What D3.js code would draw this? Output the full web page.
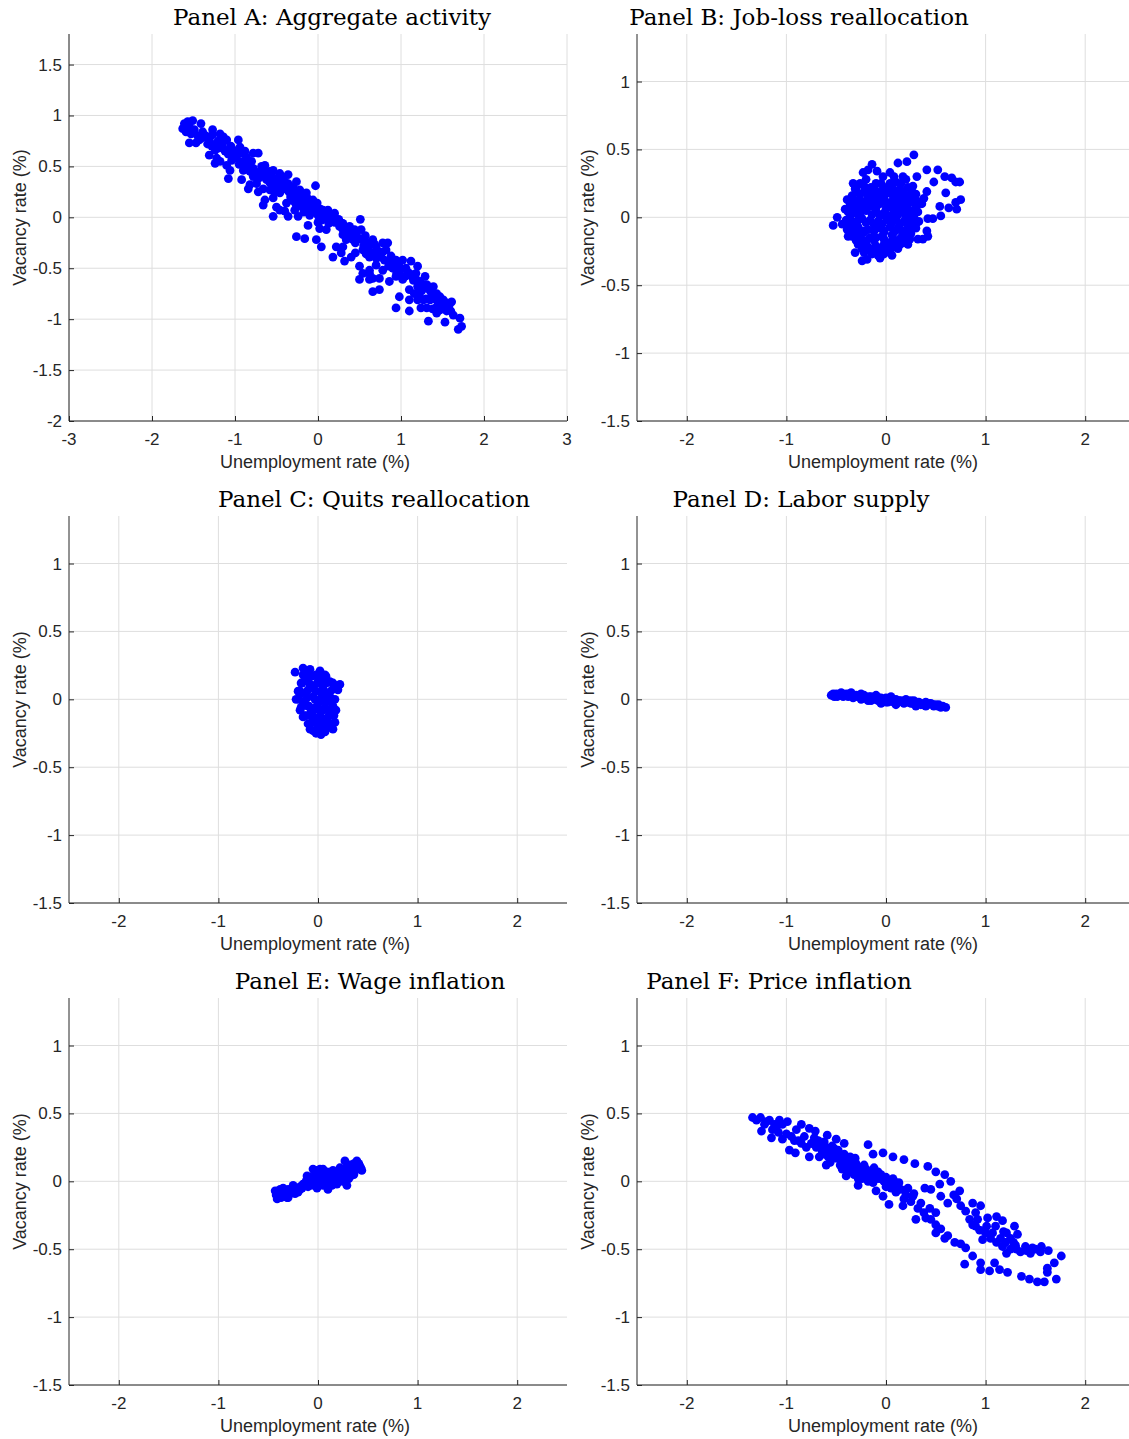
<!DOCTYPE html>
<html>
<head>
<meta charset="utf-8">
<script src="https://cdn.jsdelivr.net/npm/d3@7"></script>
<style>
  body { margin: 0; background: #fff; }
</style>
</head>
<body>
<div id="chart"></div>
<script>
// tick values
const xTicksWide = [-3, -2, -1, 0, 1, 2, 3];
const yTicksWide = [-2, -1.5, -1, -0.5, 0, 0.5, 1, 1.5];
const xTicksStd = [-2, -1, 0, 1, 2];
const yTicksStd = [-1.5, -1, -0.5, 0, 0.5, 1];

const panelTitles = [
  "Panel A: Aggregate activity",
  "Panel B: Job-loss reallocation",
  "Panel C: Quits reallocation",
  "Panel D: Labor supply",
  "Panel E: Wage inflation",
  "Panel F: Price inflation"
];

// [unemployment, vacancy] pairs
const aggregateActivity = [
  [-1.61,0.92],[-1.57,0.94],[-1.51,0.95],[-1.63,0.87],[-1.59,0.84],[-1.55,0.89],[-1.49,0.86],[-1.41,0.92],
  [-1.39,0.84],[-1.43,0.76],[-1.55,0.73],[-1.47,0.73],[-1.27,0.86],[-1.31,0.76],[-1.27,0.81],[-1.18,0.82],
  [-1.14,0.79],[-1.10,0.76],[-1.22,0.73],[-1.16,0.69],[-1.06,0.68],[-0.96,0.76],[-0.94,0.69],[-1.02,0.66],
  [-1.31,0.61],[-1.22,0.58],[-1.24,0.53],[-1.18,0.55],[-1.10,0.51],[-1.04,0.56],[-0.98,0.58],[-0.92,0.63],
  [-0.86,0.59],[-0.78,0.63],[-0.72,0.63],[-0.80,0.55],[-0.86,0.50],[-0.90,0.46],[-1.06,0.46],[-1.08,0.38],
  [-0.92,0.37],[-0.82,0.32],[-0.84,0.28],[-0.74,0.33],[-0.70,0.40],[-0.64,0.51],[-0.58,0.45],[-0.54,0.46],
  [-0.46,0.43],[-0.36,0.42],[-0.50,0.37],[-0.40,0.35],[-0.62,0.37],[-0.66,0.28],[-0.58,0.27],[-0.72,0.25],
  [-0.64,0.17],[-0.66,0.12],[-0.54,0.19],[-0.46,0.24],[-0.38,0.28],[-0.26,0.35],[-0.22,0.27],[-0.14,0.24],
  [-0.16,0.17],[-0.32,0.17],[-0.38,0.14],[-0.46,0.07],[-0.54,0.01],[-0.36,0.01],[-0.24,0.01],[-0.50,0.10],
  [-0.40,0.06],[-0.26,0.10],[-0.28,0.07],[-0.12,0.14],[-0.03,0.31],[-0.06,0.17],[-0.02,0.10],[0.06,0.07],
  [0.12,0.07],[0.20,0.04],[0.10,0.01],[0.00,0.02],[0.04,-0.03],[0.16,-0.03],[-0.10,0.02],[-0.12,-0.08],
  [0.02,-0.11],[0.10,-0.12],[0.26,-0.09],[0.30,-0.06],[0.38,-0.09],[0.30,-0.17],[0.34,-0.22],[0.42,-0.22],
  [0.38,-0.16],[0.46,-0.16],[0.52,-0.12],[0.51,-0.02],[0.58,-0.24],[0.66,-0.22],[0.70,-0.29],[0.78,-0.25],
  [0.84,-0.25],[0.78,-0.34],[0.74,-0.39],[0.62,-0.39],[0.54,-0.32],[0.30,-0.29],[0.22,-0.29],[0.28,-0.35],
  [0.40,-0.39],[0.32,-0.43],[0.18,-0.39],[0.04,-0.29],[-0.02,-0.22],[-0.26,-0.19],[-0.16,-0.21],[0.50,-0.48],
  [0.54,-0.55],[0.62,-0.52],[0.66,-0.60],[0.78,-0.52],[0.86,-0.45],[0.94,-0.42],[1.02,-0.42],[0.98,-0.52],
  [1.06,-0.50],[1.12,-0.43],[1.02,-0.61],[0.98,-0.55],[0.94,-0.58],[1.10,-0.55],[1.20,-0.48],[1.29,-0.58],
  [1.18,-0.61],[1.10,-0.71],[1.16,-0.75],[1.27,-0.68],[1.31,-0.66],[1.39,-0.68],[1.43,-0.75],[1.35,-0.81],
  [1.47,-0.78],[1.51,-0.81],[1.55,-0.84],[1.61,-0.83],[1.43,-0.88],[1.47,-0.91],[1.57,-0.89],[1.63,-0.96],
  [1.71,-0.99],[1.73,-1.07],[1.69,-1.10],[1.53,-1.03],[1.33,-1.02],[1.10,-0.92],[0.94,-0.89],[0.98,-0.78],
  [1.10,-0.81],[0.66,-0.73],[0.74,-0.71],[0.50,-0.61],[1.20,-0.81],[1.24,-0.89],[1.31,-0.89],[1.43,-0.94],
  [1.27,-0.81],[0.74,-0.60],[0.62,-0.55],[0.86,-0.63],[0.62,-0.61],
  [-1.35,0.80],[-1.20,0.75],[-1.05,0.70],[-0.98,0.62],[-0.90,0.55],[-0.85,0.50],[-0.78,0.48],[-0.75,0.42],
  [-0.70,0.45],[-0.65,0.40],[-0.60,0.38],[-0.55,0.33],[-0.50,0.30],[-0.45,0.28],[-0.42,0.32],[-0.35,0.25],
  [-0.30,0.22],[-0.25,0.18],[-0.20,0.15],[-0.18,0.10],[-0.10,0.10],[-0.05,0.05],[0.05,0.03],[0.10,-0.02],
  [0.15,0.00],[0.20,-0.05],[0.25,-0.02],[0.30,-0.12],[0.40,-0.20],[0.45,-0.25],[0.55,-0.28],[0.60,-0.30],
  [0.65,-0.35],[0.70,-0.40],[0.80,-0.42],[0.85,-0.48],[0.90,-0.50],[0.95,-0.55],[1.05,-0.58],[1.15,-0.62],
  [1.20,-0.68],[1.25,-0.72],[1.35,-0.72],[1.40,-0.80],[1.45,-0.85],[1.50,-0.86],[1.55,-0.92],[1.38,-0.90],
  [1.30,-0.80],[1.22,-0.76],
  [-1.58,0.90],[-1.53,0.82],[-1.45,0.80],[-1.40,0.78],[-1.33,0.72],[-1.28,0.70],[-1.24,0.66],[-1.15,0.72],
  [-1.12,0.65],[-1.08,0.62],[-1.00,0.60],[-0.95,0.52],[-0.88,0.52],[-0.82,0.45],[-0.78,0.40],[-0.72,0.38],
  [-0.68,0.50],[-0.62,0.44],[-0.58,0.34],[-0.55,0.40],[-0.52,0.25],[-0.48,0.34],[-0.44,0.38],[-0.40,0.28],
  [-0.36,0.33],[-0.33,0.20],[-0.30,0.30],[-0.28,0.15],[-0.24,0.25],[-0.20,0.22],[-0.17,0.05],[-0.13,0.19],
  [-0.08,0.06],[-0.06,0.13],[-0.01,0.14],[0.03,0.08],[0.08,0.04],[0.13,-0.06],[0.17,0.02],[0.22,-0.02],
  [0.27,-0.05],[0.33,-0.10],[0.36,-0.13],[0.44,-0.12],[0.48,-0.20],[0.53,-0.22],[0.57,-0.18],[0.62,-0.27],
  [0.68,-0.26],[0.72,-0.33],[0.76,-0.36],[0.82,-0.32],[0.88,-0.38],[0.92,-0.46],[0.97,-0.47],[1.00,-0.50],
  [1.08,-0.54],[1.13,-0.58],[1.18,-0.55],[1.23,-0.63],[1.28,-0.66],[1.33,-0.68],[1.37,-0.76],[1.42,-0.78],
  [1.48,-0.82],[1.53,-0.88],[1.58,-0.86],[1.60,-0.92],[-0.88,0.65],[-1.20,0.68],[0.00,-0.05],[0.45,-0.35],
  [0.58,-0.36],[0.70,-0.47]
];

const jobLossReallocation = [
  [0.28,0.46],[0.21,0.41],[0.12,0.40],[-0.14,0.39],[-0.18,0.35],[-0.23,0.33],[-0.09,0.34],[-0.33,0.25],
  [-0.31,0.21],[-0.39,0.13],[-0.41,0.06],[-0.49,0.00],[-0.53,-0.06],[-0.44,-0.05],[-0.38,-0.14],[-0.39,-0.09],
  [-0.31,-0.26],[-0.24,-0.32],[-0.19,-0.31],[-0.06,-0.30],[-0.14,-0.27],[0.06,-0.28],[0.14,-0.20],[0.24,-0.16],
  [0.32,-0.16],[0.37,-0.16],[0.42,-0.14],[0.41,-0.10],[0.47,-0.01],[0.42,-0.01],[0.55,0.01],[0.54,0.08],
  [0.63,0.07],[0.71,0.06],[0.70,0.11],[0.75,0.13],[0.60,0.18],[0.70,0.26],[0.74,0.26],[0.66,0.29],
  [0.59,0.30],[0.52,0.35],[0.41,0.35],[0.48,0.26],[0.41,0.19],[0.38,0.14],[0.36,0.10],[0.27,0.23],
  [0.31,0.30],[0.17,0.30],[0.04,0.33],[-0.03,0.30],
  [-0.30,0.10],[-0.25,0.05],[-0.28,-0.02],[-0.22,-0.10],[-0.20,0.18],[-0.15,0.22],[-0.15,0.08],[-0.12,-0.05],
  [-0.10,-0.15],[-0.08,0.15],[-0.05,0.25],[-0.05,0.02],[-0.02,-0.10],[0.00,0.20],[0.02,0.08],[0.05,-0.02],
  [0.05,-0.18],[0.08,0.15],[0.10,0.05],[0.12,-0.08],[0.15,0.25],[0.18,0.10],[0.20,0.00],[0.22,-0.10],
  [0.25,0.15],[0.28,0.05],[-0.18,-0.22],[-0.25,-0.18],[-0.32,-0.10],[0.00,-0.25],[0.10,-0.22],[-0.35,0.05],
  [-0.20,0.28],[0.20,0.28],[-0.08,-0.28],[0.15,-0.15],[0.28,-0.05],[0.00,0.00],[-0.12,0.12],[0.08,0.30],
  [-0.30,0.22],[-0.22,0.23],[-0.12,0.21],[-0.02,0.22],[0.06,0.23],[0.14,0.21],[0.22,0.22],
  [-0.34,0.16],[-0.26,0.17],[-0.18,0.15],[-0.10,0.16],[-0.02,0.15],[0.06,0.17],[0.14,0.16],[0.22,0.15],[0.30,0.17],
  [-0.36,0.10],[-0.22,0.11],[-0.14,0.09],[-0.06,0.10],[0.04,0.11],[0.12,0.10],[0.20,0.09],[0.26,0.11],[0.33,0.10],
  [-0.38,0.04],[-0.30,0.03],[-0.20,0.05],[-0.10,0.04],[-0.02,0.03],[0.08,0.05],[0.16,0.04],[0.24,0.03],[0.32,0.04],
  [-0.40,-0.02],[-0.34,-0.03],[-0.24,-0.01],[-0.16,-0.02],[-0.08,-0.03],[0.02,-0.02],[0.10,-0.01],[0.18,-0.03],[0.26,-0.02],[0.33,-0.03],
  [-0.36,-0.08],[-0.28,-0.07],[-0.18,-0.09],[-0.06,-0.08],[0.04,-0.07],[0.14,-0.09],[0.22,-0.07],[0.30,-0.08],
  [-0.34,-0.14],[-0.26,-0.13],[-0.16,-0.15],[-0.04,-0.14],[0.06,-0.13],[0.18,-0.14],[0.25,-0.12],
  [-0.28,-0.20],[-0.20,-0.19],[-0.10,-0.21],[-0.02,-0.20],[0.06,-0.21],[0.16,-0.19],[0.22,-0.20],
  [-0.22,-0.26],[-0.12,-0.25],[-0.02,-0.27],[0.04,-0.25],
  [-0.26,0.25],[-0.10,0.25],[0.04,0.25],[0.10,0.26],
  [-0.30,0.19],[-0.22,0.19],[-0.14,0.18],[-0.06,0.19],[0.02,0.18],[0.10,0.19],[0.18,0.18],[0.26,0.19],
  [-0.32,0.13],[-0.26,0.13],[-0.18,0.12],[-0.10,0.13],[-0.02,0.12],[0.08,0.13],[0.16,0.13],[0.24,0.12],[0.30,0.13],
  [-0.34,0.07],[-0.26,0.07],[-0.18,0.08],[-0.10,0.07],[0.00,0.06],[0.08,0.08],[0.16,0.07],[0.22,0.06],[0.30,0.07],
  [-0.36,0.01],[-0.26,0.01],[-0.14,0.02],[-0.06,0.01],[0.04,0.01],[0.12,0.02],[0.20,0.01],[0.28,0.01],
  [-0.38,-0.05],[-0.30,-0.05],[-0.20,-0.04],[-0.12,-0.05],[-0.04,-0.05],[0.06,-0.04],[0.14,-0.05],[0.22,-0.04],[0.30,-0.05],
  [-0.32,-0.11],[-0.22,-0.11],[-0.12,-0.10],[-0.02,-0.11],[0.08,-0.11],[0.16,-0.10],[0.24,-0.11],
  [-0.30,-0.17],[-0.22,-0.17],[-0.12,-0.17],[-0.02,-0.16],[0.10,-0.17],[0.20,-0.17],
  [-0.24,-0.23],[-0.16,-0.23],[-0.06,-0.23],[0.02,-0.22],[0.12,-0.23]
];

const quitsReallocation = [
  [-0.23,0.20],[-0.15,0.23],[-0.08,0.22],[0.02,0.21],[0.07,0.18],[0.12,0.13],[0.22,0.11],[0.20,0.07],
  [0.17,0.00],[0.18,-0.08],[0.17,-0.17],[0.12,-0.20],[0.08,-0.22],[0.03,-0.26],[-0.02,-0.25],[-0.08,-0.22],
  [0.02,-0.20],[-0.15,-0.13],[-0.18,-0.08],[-0.22,0.00],[-0.20,0.06],[-0.17,0.12],[-0.15,0.18],
  [-0.10,0.15],[-0.05,0.10],[0.00,0.12],[0.05,0.08],[0.10,0.05],[-0.12,0.05],[-0.05,0.02],[0.02,0.00],
  [0.08,-0.02],[0.12,0.02],[-0.15,-0.02],[-0.10,-0.05],[-0.02,-0.06],[0.05,-0.08],[0.12,-0.10],[-0.12,-0.12],
  [-0.05,-0.14],[0.02,-0.15],[0.08,-0.15],[-0.02,0.18],[-0.08,-0.18],[0.00,-0.20],[0.06,0.15],[-0.18,0.04],
  [0.15,-0.05],[0.10,-0.18],[-0.10,0.20],[0.03,0.05],[-0.07,-0.09],[0.00,-0.03],
  [-0.14,0.18],[-0.06,0.17],[0.02,0.18],[0.08,0.17],
  [-0.16,0.12],[-0.08,0.11],[0.00,0.13],[0.08,0.12],[0.15,0.12],
  [-0.18,0.06],[-0.10,0.07],[-0.02,0.06],[0.06,0.05],[0.14,0.07],[0.20,0.10],
  [-0.19,0.00],[-0.11,0.01],[-0.03,0.00],[0.05,0.01],[0.13,-0.01],
  [-0.17,-0.06],[-0.09,-0.05],[-0.01,-0.07],[0.07,-0.06],[0.15,-0.07],
  [-0.14,-0.12],[-0.06,-0.11],[0.02,-0.12],[0.10,-0.13],[0.16,-0.12],
  [-0.10,-0.18],[-0.03,-0.17],[0.05,-0.19],[0.13,-0.18],
  [-0.05,-0.23],[0.01,-0.22],[0.07,-0.24],[0.15,-0.22]
];

const laborSupply = [
  [-0.55,0.03],[-0.52,0.02],[-0.50,0.04],[-0.47,0.03],[-0.45,0.05],[-0.43,0.02],[-0.40,0.04],[-0.38,0.02],
  [-0.35,0.03],[-0.33,0.01],[-0.30,0.03],[-0.28,0.02],[-0.25,0.00],[-0.22,0.03],[-0.20,0.01],[-0.18,-0.01],
  [-0.15,0.02],[-0.12,0.00],[-0.10,0.02],[-0.08,-0.01],[-0.05,0.01],[-0.02,-0.01],[0.00,0.01],[0.02,-0.02],
  [0.05,0.00],[0.08,-0.02],[0.10,0.00],[0.12,-0.02],[0.15,-0.01],[0.18,-0.03],[0.20,-0.01],[0.22,-0.02],
  [0.25,-0.03],[0.28,-0.01],[0.30,-0.03],[0.33,-0.02],[0.35,-0.04],[0.38,-0.03],[0.40,-0.02],[0.42,-0.04],
  [0.45,-0.03],[0.48,-0.05],[0.50,-0.04],[0.53,-0.04],[0.55,-0.06],[0.60,-0.06],[-0.35,0.05],[-0.25,0.04],
  [-0.10,0.03],[0.05,0.02],[0.20,0.00],[-0.05,-0.03],[0.10,-0.04],[0.30,-0.05],
  [-0.53,0.04],[-0.49,0.02],[-0.41,0.03],[-0.37,0.04],[-0.31,0.02],[-0.27,0.03],[-0.23,0.02],[-0.17,0.02],
  [-0.13,0.01],[-0.07,0.01],[-0.03,0.00],[0.03,0.00],[0.07,-0.01],[0.13,-0.01],[0.17,-0.02],[0.23,-0.02],
  [0.27,-0.03],[0.32,-0.03],[0.37,-0.04],[0.43,-0.03],[0.47,-0.04],[0.52,-0.05],[0.57,-0.05],[-0.44,0.04],
  [-0.15,-0.01],[0.00,-0.02],[0.25,-0.01],[0.40,-0.05]
];

const wageInflation = [
  [-0.43,-0.07],[-0.41,-0.13],[-0.31,-0.12],[-0.25,-0.08],[-0.18,-0.06],[-0.11,0.04],[-0.05,0.09],[0.05,0.09],
  [0.12,0.06],[0.22,0.10],[0.27,0.15],[0.39,0.15],[0.44,0.08],[0.42,0.11],[0.29,-0.03],[0.19,-0.02],
  [0.10,-0.06],[-0.01,-0.05],[-0.08,-0.03],[-0.25,-0.03],[-0.38,-0.06],
  [-0.40,-0.10],[-0.35,-0.08],[-0.33,-0.11],[-0.30,-0.06],[-0.28,-0.09],[-0.22,-0.05],[-0.20,-0.08],[-0.15,-0.02],
  [-0.12,0.00],[-0.10,-0.04],[-0.08,0.03],[-0.05,0.00],[-0.02,0.05],[0.00,0.02],[0.02,-0.02],[0.05,0.04],
  [0.08,0.01],[0.10,0.05],[0.12,0.00],[0.15,0.03],[0.18,0.06],[0.20,0.02],[0.22,0.05],[0.25,0.08],
  [0.28,0.05],[0.30,0.10],[0.32,0.12],[0.35,0.08],[0.38,0.12],[0.40,0.09],[0.25,0.00],[0.33,0.04],
  [0.15,0.08],[-0.02,0.08],[-0.18,-0.04],[-0.37,-0.12],[0.05,-0.03],
  [-0.42,-0.10],[-0.38,-0.09],[-0.34,-0.10],[-0.30,-0.09],[-0.26,-0.07],[-0.23,-0.09],[-0.20,-0.05],[-0.16,-0.05],
  [-0.14,-0.02],[-0.10,-0.01],[-0.07,0.01],[-0.04,0.03],[-0.01,0.04],[0.02,0.05],[0.04,0.07],[0.07,0.03],
  [0.09,0.07],[0.13,0.03],[0.16,0.05],[0.19,0.04],[0.22,0.02],[0.24,0.06],[0.27,0.09],[0.30,0.07],
  [0.33,0.10],[0.36,0.13],[0.36,0.05],[0.41,0.13],[0.43,0.10],[0.00,-0.01],[-0.04,-0.03],[0.07,-0.01],
  [0.14,-0.03],[-0.30,-0.12],[-0.35,-0.05],[0.02,0.09],[0.31,0.02]
];

const priceInflation = [
  [-1.34,0.47],[-1.26,0.47],[-1.17,0.45],[-1.07,0.45],[-0.99,0.44],[-1.04,0.42],[-1.22,0.42],[-1.14,0.38],
  [-1.15,0.32],[-1.04,0.31],[-0.97,0.23],[-0.91,0.21],[-0.85,0.42],[-0.77,0.39],[-0.71,0.37],[-0.82,0.33],
  [-0.74,0.28],[-0.77,0.18],[-0.67,0.18],[-0.59,0.34],[-0.50,0.31],[-0.42,0.28],[-0.57,0.23],[-0.47,0.20],
  [-0.39,0.16],[-0.30,0.13],[-0.40,0.04],[-0.28,-0.03],[-0.18,0.27],[-0.13,0.20],[-0.03,0.21],[0.07,0.18],
  [0.18,0.16],[0.29,0.13],[0.42,0.11],[0.50,0.07],[0.59,0.05],[0.65,0.00],[0.54,-0.02],[0.45,-0.06],
  [0.39,-0.05],[0.55,-0.11],[0.62,-0.16],[0.71,-0.13],[0.74,-0.07],[0.75,-0.18],[0.87,-0.16],[0.95,-0.18],
  [0.90,-0.23],[0.84,-0.28],[0.87,-0.32],[0.92,-0.28],[1.02,-0.27],[1.11,-0.26],[1.17,-0.29],[1.29,-0.33],
  [1.32,-0.39],[1.21,-0.38],[1.07,-0.38],[1.01,-0.33],[0.94,-0.36],[0.97,-0.43],[1.11,-0.45],[1.17,-0.48],
  [1.21,-0.53],[1.31,-0.50],[1.41,-0.51],[1.47,-0.49],[1.56,-0.48],[1.63,-0.51],[1.76,-0.55],[1.69,-0.60],
  [1.62,-0.64],[1.62,-0.67],[1.71,-0.72],[1.59,-0.74],[1.52,-0.74],[1.44,-0.72],[1.36,-0.70],[1.22,-0.67],
  [1.14,-0.65],[1.09,-0.60],[1.04,-0.66],[0.95,-0.60],[0.95,-0.65],[0.87,-0.55],[0.79,-0.61],[0.80,-0.49],
  [0.69,-0.45],[0.59,-0.42],[0.50,-0.38],[0.50,-0.32],[0.40,-0.27],[0.30,-0.28],[0.50,-0.23],[0.44,-0.20],
  [0.35,-0.16],[0.27,-0.11],[0.18,-0.13],[0.17,-0.18],[0.03,-0.17],[-0.03,-0.11],[-0.10,-0.07],[-0.13,-0.01],
  [-0.03,0.01],[0.07,0.02],[0.13,-0.01],[0.22,-0.05],[0.28,-0.09],
  [-0.75,0.28],[-0.65,0.27],[-0.60,0.25],[-0.55,0.20],[-0.50,0.17],[-0.45,0.15],[-0.40,0.12],[-0.35,0.10],
  [-0.30,0.08],[-0.25,0.07],[-0.20,0.05],[-0.15,0.04],[-0.10,0.02],[-0.05,0.05],[0.00,0.03],[-0.62,0.20],
  [-0.52,0.24],[-0.42,0.20],[-0.33,0.15],[-0.22,0.12],[-0.12,0.10],[-0.28,0.02],[-0.18,0.00],[0.05,-0.05],
  [0.10,-0.08],[1.20,-0.45],[1.25,-0.50],[1.30,-0.47],[1.35,-0.52],[1.15,-0.42],[1.05,-0.42],[1.00,-0.38],
  [0.90,-0.33],[-0.90,0.38],[-0.95,0.33],[-1.10,0.40],[-0.88,0.30],
  [-1.30,0.45],[-1.20,0.44],[-1.12,0.42],[-1.08,0.36],[-1.00,0.35],[-0.92,0.30],[-0.85,0.28],[-0.80,0.25],
  [-0.70,0.25],[-0.68,0.30],[-0.64,0.22],[-0.58,0.18],[-0.54,0.26],[-0.48,0.23],[-0.46,0.12],[-0.42,0.16],
  [-0.38,0.08],[-0.36,0.18],[-0.32,0.05],[-0.26,0.10],[-0.24,0.02],[-0.20,0.09],[-0.16,0.06],[-0.08,0.07],
  [-0.02,0.00],[0.02,-0.02],[0.10,-0.03],[0.15,-0.06],[0.20,-0.10],[0.25,-0.15],[0.32,-0.20],[0.38,-0.23],
  [0.45,-0.28],[0.55,-0.35],[0.62,-0.40],[0.75,-0.46],[1.40,-0.48],[1.45,-0.53],[1.50,-0.50],[1.55,-0.52],
  [1.25,-0.42],[1.10,-0.33],[1.18,-0.37],[0.80,-0.22],[0.68,-0.10],[-1.25,0.37],[-0.60,0.12],
  [-0.72,0.32],[-0.62,0.29],[-0.56,0.14],[-0.50,0.21],[-0.44,0.09],[-0.37,0.13],[-0.31,0.17],[-0.27,0.05],
  [-0.21,0.08],[-0.14,0.00],[-0.07,0.02],[-0.11,0.07],[0.00,-0.04],[0.08,0.00],[0.12,-0.05],[1.28,-0.45]
];

const width = 1129, height = 1439;
const plotW = 498, plotH = 387;
const colLeft = [69, 637];
const rowTop = [34, 516, 998];
const ink = "#262626";

const panels = [
  { title: panelTitles[0], data: aggregateActivity, xDomain: [-3, 3], yDomain: [-2, 1.8], xTicks: xTicksWide, yTicks: yTicksWide, col: 0, row: 0, titleX: 332 },
  { title: panelTitles[1], data: jobLossReallocation, xDomain: [-2.5, 2.5], yDomain: [-1.5, 1.35], xTicks: xTicksStd, yTicks: yTicksStd, col: 1, row: 0, titleX: 799 },
  { title: panelTitles[2], data: quitsReallocation, xDomain: [-2.5, 2.5], yDomain: [-1.5, 1.35], xTicks: xTicksStd, yTicks: yTicksStd, col: 0, row: 1, titleX: 374 },
  { title: panelTitles[3], data: laborSupply, xDomain: [-2.5, 2.5], yDomain: [-1.5, 1.35], xTicks: xTicksStd, yTicks: yTicksStd, col: 1, row: 1, titleX: 801 },
  { title: panelTitles[4], data: wageInflation, xDomain: [-2.5, 2.5], yDomain: [-1.5, 1.35], xTicks: xTicksStd, yTicks: yTicksStd, col: 0, row: 2, titleX: 370 },
  { title: panelTitles[5], data: priceInflation, xDomain: [-2.5, 2.5], yDomain: [-1.5, 1.35], xTicks: xTicksStd, yTicks: yTicksStd, col: 1, row: 2, titleX: 779 }
];

const svg = d3.select("#chart")
  .append("svg")
    .attr("width", width)
    .attr("height", height)
    .style("font-family", "'Liberation Sans', Arial, sans-serif");

panels.forEach(p => {
  const left = colLeft[p.col], top = rowTop[p.row];
  const x = d3.scaleLinear().domain(p.xDomain).range([0, plotW]);
  const y = d3.scaleLinear().domain(p.yDomain).range([plotH, 0]);

  const g = svg.append("g").attr("transform", `translate(${left}, ${top})`);

  // grid
  g.append("g")
    .selectAll("line")
    .data(p.xTicks)
    .join("line")
      .attr("x1", d => x(d)).attr("x2", d => x(d))
      .attr("y1", 0).attr("y2", plotH)
      .attr("stroke", "#dedede")
      .attr("stroke-width", 1);
  g.append("g")
    .selectAll("line")
    .data(p.yTicks)
    .join("line")
      .attr("x1", 0).attr("x2", plotW)
      .attr("y1", d => y(d)).attr("y2", d => y(d))
      .attr("stroke", "#dedede")
      .attr("stroke-width", 1);

  // dots
  g.append("g")
    .selectAll("circle")
    .data(p.data)
    .join("circle")
      .attr("cx", d => x(d[0]))
      .attr("cy", d => y(d[1]))
      .attr("r", 4.4)
      .attr("fill", "#0000ff");

  // axes, ticks pointing inward like matlab
  const xAxis = g.append("g")
    .attr("transform", `translate(0, ${plotH})`)
    .call(d3.axisTop(x).tickValues(p.xTicks).tickSize(5).tickFormat(d => String(d)));
  xAxis.selectAll("text").remove();
  const yAxis = g.append("g")
    .call(d3.axisRight(y).tickValues(p.yTicks).tickSize(5).tickFormat(d => String(d)));
  yAxis.selectAll("text").remove();
  [xAxis, yAxis].forEach(a => {
    a.select(".domain").remove();
    a.selectAll("line").attr("stroke", ink);
  });
  g.append("line").attr("x1", 0).attr("x2", plotW).attr("y1", plotH).attr("y2", plotH).attr("stroke", ink);
  g.append("line").attr("x1", 0).attr("x2", 0).attr("y1", 0).attr("y2", plotH).attr("stroke", ink);

  // tick labels
  g.append("g")
    .selectAll("text")
    .data(p.xTicks)
    .join("text")
      .attr("x", d => x(d))
      .attr("y", plotH + 24)
      .attr("text-anchor", "middle")
      .attr("fill", ink)
      .style("font-size", "17px")
      .text(d => String(d));
  g.append("g")
    .selectAll("text")
    .data(p.yTicks)
    .join("text")
      .attr("x", -7)
      .attr("y", d => y(d) + 6)
      .attr("text-anchor", "end")
      .attr("fill", ink)
      .style("font-size", "17px")
      .text(d => String(d));

  // axis labels
  g.append("text")
    .attr("x", plotW / 2 - 3)
    .attr("y", plotH + 47)
    .attr("text-anchor", "middle")
    .attr("fill", ink)
    .style("font-size", "18px")
    .text("Unemployment rate (%)");
  g.append("text")
    .attr("transform", `translate(-43, ${plotH / 2 - 10}) rotate(-90)`)
    .attr("text-anchor", "middle")
    .attr("fill", ink)
    .style("font-size", "18px")
    .text("Vacancy rate (%)");

  // title
  svg.append("text")
    .attr("x", p.titleX)
    .attr("y", top - 9)
    .attr("text-anchor", "middle")
    .attr("fill", "#000")
    .style("font-family", "'DejaVu Serif', serif")
    .style("font-size", "23px")
    .text(p.title);
});
</script>
</body>
</html>
